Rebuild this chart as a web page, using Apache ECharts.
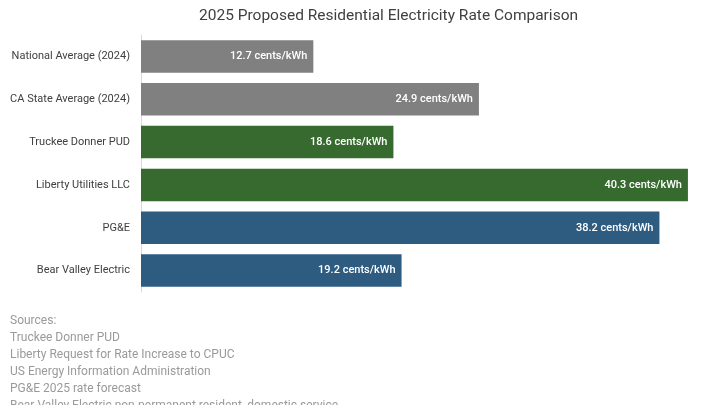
<!DOCTYPE html>
<html>
<head>
<meta charset="utf-8">
<script src="https://cdn.jsdelivr.net/npm/echarts@6/dist/echarts.min.js"></script>
<style>
html,body{margin:0;padding:0;background:#fff;}
#c{width:720px;height:405px;}
</style>
</head>
<body>
<div id="c"></div>
<script>
const categories = ["National Average (2024)", "CA State Average (2024)", "Truckee Donner PUD", "Liberty Utilities LLC", "PG&E", "Bear Valley Electric"];
const values = [12.7, 24.9, 18.6, 40.3, 38.2, 19.2];
const barColors = ["#808080", "#808080", "#376a2f", "#376a2f", "#2e5b80", "#2e5b80"];
const sources = ["Sources:", "Truckee Donner PUD", "Liberty Request for Rate Increase to CPUC", "US Energy Information Administration", "PG&E 2025 rate forecast", "Bear Valley Electric non-permanent resident, domestic service"];

const chart = echarts.init(document.getElementById('c'));
const font = 'Roboto, "Liberation Sans", sans-serif';
chart.setOption({
  animation: false,
  title: {
    text: "2025 Proposed Residential Electricity Rate Comparison",
    left: 194, top: 3,
    textStyle: {fontFamily: font, fontSize: 15.5, fontWeight: 'normal', color: '#404040'}
  },
  grid: {left: 141, top: 35, width: 570, height: 257},
  xAxis: {
    type: 'value', min: 0, max: 42, show: false
  },
  yAxis: {
    type: 'category', data: categories, inverse: true,
    axisLine: {show: true, lineStyle: {color: '#d9d9d9'}},
    axisTick: {show: false},
    axisLabel: {fontFamily: font, fontSize: 11, color: '#404040', margin: 11}
  },
  series: [{
    type: 'bar',
    barCategoryGap: '24%',
    data: values.map((v, i) => ({value: v, itemStyle: {color: barColors[i]}})),
    label: {
      show: true, position: 'insideRight', distance: 6,
      formatter: p => p.value + ' cents/kWh',
      fontFamily: font, fontSize: 11, fontWeight: 500, color: '#ffffff'
    }
  }],
  graphic: sources.map((s, i) => ({
    type: 'text', left: 10, top: 315 + i * 17,
    style: {text: s, fontFamily: font, fontSize: 12, fill: '#9a9a9a'}
  }))
});
</script>
</body>
</html>
